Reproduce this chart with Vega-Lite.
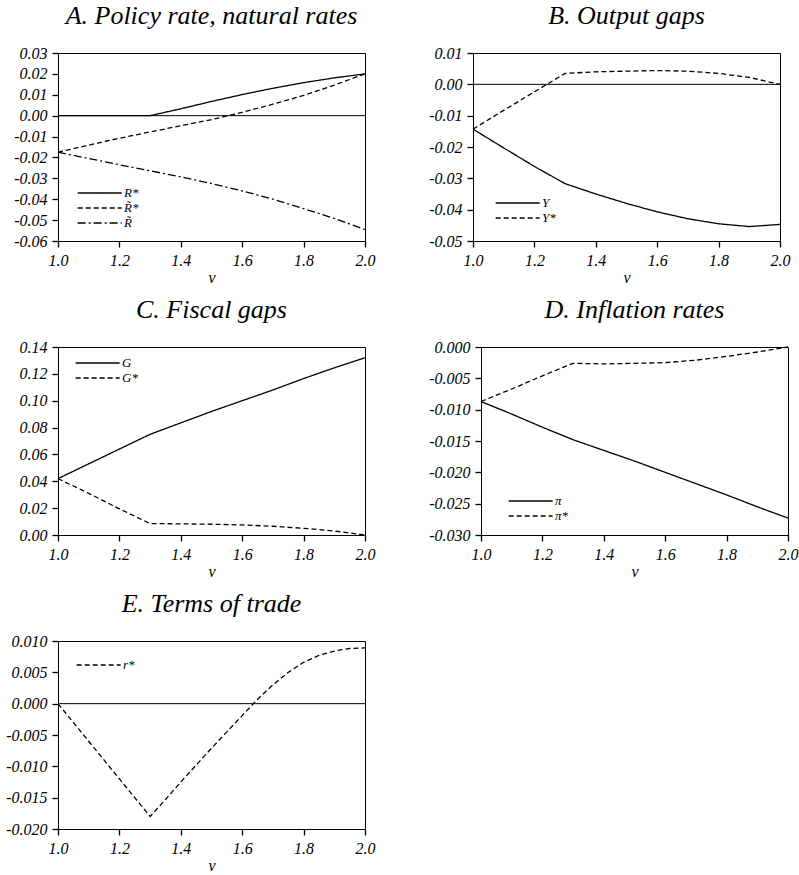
{
  "$schema": "https://vega.github.io/schema/vega-lite/v6.json",
  "padding": {"left": 5, "top": 2, "right": 3, "bottom": 1},
  "background": "white",
  "columns": 2,
  "align": "none",
  "spacing": {"row": 10, "column": 52},
  "datasets": {
    "A": [
      {"x": 1.0, "s": "R*", "y": 0}, {"x": 1.1, "s": "R*", "y": 0}, {"x": 1.2, "s": "R*", "y": 0}, {"x": 1.3, "s": "R*", "y": 0},
      {"x": 1.4, "s": "R*", "y": 0.0033}, {"x": 1.5, "s": "R*", "y": 0.0068}, {"x": 1.6, "s": "R*", "y": 0.0101}, {"x": 1.7, "s": "R*", "y": 0.0131},
      {"x": 1.8, "s": "R*", "y": 0.0158}, {"x": 1.9, "s": "R*", "y": 0.0181}, {"x": 2.0, "s": "R*", "y": 0.0200},
      {"x": 1.0, "s": "R̃*", "y": -0.0175}, {"x": 1.1, "s": "R̃*", "y": -0.0141}, {"x": 1.2, "s": "R̃*", "y": -0.0108}, {"x": 1.3, "s": "R̃*", "y": -0.0078},
      {"x": 1.4, "s": "R̃*", "y": -0.0048}, {"x": 1.5, "s": "R̃*", "y": -0.0019}, {"x": 1.6, "s": "R̃*", "y": 0.0016}, {"x": 1.7, "s": "R̃*", "y": 0.0055},
      {"x": 1.8, "s": "R̃*", "y": 0.0097}, {"x": 1.9, "s": "R̃*", "y": 0.0146}, {"x": 2.0, "s": "R̃*", "y": 0.0200},
      {"x": 1.0, "s": "R̃", "y": -0.0175}, {"x": 1.1, "s": "R̃", "y": -0.0205}, {"x": 1.2, "s": "R̃", "y": -0.0235}, {"x": 1.3, "s": "R̃", "y": -0.0264},
      {"x": 1.4, "s": "R̃", "y": -0.0293}, {"x": 1.5, "s": "R̃", "y": -0.0325}, {"x": 1.6, "s": "R̃", "y": -0.0360}, {"x": 1.7, "s": "R̃", "y": -0.0400},
      {"x": 1.8, "s": "R̃", "y": -0.0445}, {"x": 1.9, "s": "R̃", "y": -0.0492}, {"x": 2.0, "s": "R̃", "y": -0.0545}
    ],
    "B": [
      {"x": 1.0, "s": "Y", "y": -0.0143}, {"x": 1.1, "s": "Y", "y": -0.0203}, {"x": 1.2, "s": "Y", "y": -0.0262}, {"x": 1.3, "s": "Y", "y": -0.0317},
      {"x": 1.4, "s": "Y", "y": -0.0350}, {"x": 1.5, "s": "Y", "y": -0.0380}, {"x": 1.6, "s": "Y", "y": -0.0407}, {"x": 1.7, "s": "Y", "y": -0.0429},
      {"x": 1.8, "s": "Y", "y": -0.0445}, {"x": 1.9, "s": "Y", "y": -0.0454}, {"x": 2.0, "s": "Y", "y": -0.0447},
      {"x": 1.0, "s": "Y*", "y": -0.0143}, {"x": 1.1, "s": "Y*", "y": -0.0083}, {"x": 1.2, "s": "Y*", "y": -0.0024}, {"x": 1.3, "s": "Y*", "y": 0.0035},
      {"x": 1.4, "s": "Y*", "y": 0.0040}, {"x": 1.5, "s": "Y*", "y": 0.0042}, {"x": 1.6, "s": "Y*", "y": 0.0044}, {"x": 1.7, "s": "Y*", "y": 0.0042},
      {"x": 1.8, "s": "Y*", "y": 0.0035}, {"x": 1.9, "s": "Y*", "y": 0.0022}, {"x": 2.0, "s": "Y*", "y": 0.0}
    ],
    "C": [
      {"x": 1.0, "s": "G", "y": 0.042}, {"x": 1.1, "s": "G", "y": 0.053}, {"x": 1.2, "s": "G", "y": 0.064}, {"x": 1.3, "s": "G", "y": 0.075},
      {"x": 1.4, "s": "G", "y": 0.0835}, {"x": 1.5, "s": "G", "y": 0.092}, {"x": 1.6, "s": "G", "y": 0.100}, {"x": 1.7, "s": "G", "y": 0.108},
      {"x": 1.8, "s": "G", "y": 0.1165}, {"x": 1.9, "s": "G", "y": 0.1245}, {"x": 2.0, "s": "G", "y": 0.132},
      {"x": 1.0, "s": "G*", "y": 0.042}, {"x": 1.1, "s": "G*", "y": 0.031}, {"x": 1.2, "s": "G*", "y": 0.0195}, {"x": 1.3, "s": "G*", "y": 0.0085},
      {"x": 1.4, "s": "G*", "y": 0.0083}, {"x": 1.5, "s": "G*", "y": 0.0080}, {"x": 1.6, "s": "G*", "y": 0.0075}, {"x": 1.7, "s": "G*", "y": 0.0065},
      {"x": 1.8, "s": "G*", "y": 0.0050}, {"x": 1.9, "s": "G*", "y": 0.0030}, {"x": 2.0, "s": "G*", "y": 0.0}
    ],
    "D": [
      {"x": 1.0, "s": "π", "y": -0.0087}, {"x": 1.1, "s": "π", "y": -0.0107}, {"x": 1.2, "s": "π", "y": -0.0128}, {"x": 1.3, "s": "π", "y": -0.0148},
      {"x": 1.4, "s": "π", "y": -0.0165}, {"x": 1.5, "s": "π", "y": -0.0182}, {"x": 1.6, "s": "π", "y": -0.0200}, {"x": 1.7, "s": "π", "y": -0.0218},
      {"x": 1.8, "s": "π", "y": -0.0236}, {"x": 1.9, "s": "π", "y": -0.0255}, {"x": 2.0, "s": "π", "y": -0.0273},
      {"x": 1.0, "s": "π*", "y": -0.0087}, {"x": 1.1, "s": "π*", "y": -0.0067}, {"x": 1.2, "s": "π*", "y": -0.0046}, {"x": 1.3, "s": "π*", "y": -0.0026},
      {"x": 1.4, "s": "π*", "y": -0.0027}, {"x": 1.5, "s": "π*", "y": -0.0026}, {"x": 1.6, "s": "π*", "y": -0.0025}, {"x": 1.7, "s": "π*", "y": -0.0021},
      {"x": 1.8, "s": "π*", "y": -0.0015}, {"x": 1.9, "s": "π*", "y": -0.0008}, {"x": 2.0, "s": "π*", "y": 0.0}
    ],
    "E": [
      {"x": 1.0, "s": "r*", "y": 0.0}, {"x": 1.1, "s": "r*", "y": -0.0060}, {"x": 1.2, "s": "r*", "y": -0.0120}, {"x": 1.3, "s": "r*", "y": -0.0180},
      {"x": 1.35, "s": "r*", "y": -0.0153}, {"x": 1.4, "s": "r*", "y": -0.0125}, {"x": 1.45, "s": "r*", "y": -0.0098}, {"x": 1.5, "s": "r*", "y": -0.0071},
      {"x": 1.55, "s": "r*", "y": -0.0045}, {"x": 1.6, "s": "r*", "y": -0.0019}, {"x": 1.65, "s": "r*", "y": 0.0007}, {"x": 1.7, "s": "r*", "y": 0.0030},
      {"x": 1.75, "s": "r*", "y": 0.0050}, {"x": 1.8, "s": "r*", "y": 0.0066}, {"x": 1.85, "s": "r*", "y": 0.0077}, {"x": 1.9, "s": "r*", "y": 0.0084},
      {"x": 1.95, "s": "r*", "y": 0.0088}, {"x": 2.0, "s": "r*", "y": 0.0089}
    ],
    "zero": [{"z": 0}]
  },
  "concat": [
    {
      "title": "A. Policy rate, natural rates",
      "width": 307, "height": 188,
      "layer": [
        {
          "data": {"name": "A"},
          "mark": {"type": "line", "color": "black", "strokeWidth": 1.3},
          "encoding": {
            "x": {"field": "x", "type": "quantitative", "scale": {"domain": [1, 2], "nice": false}, "axis": {"values": [1, 1.2, 1.4, 1.6, 1.8, 2], "format": ".1f", "title": "v"}},
            "y": {"field": "y", "type": "quantitative", "scale": {"domain": [-0.06, 0.03], "nice": false}, "axis": {"values": [-0.06, -0.05, -0.04, -0.03, -0.02, -0.01, 0, 0.01, 0.02, 0.03], "format": ".2f", "title": null}},
            "strokeDash": {"field": "s", "type": "nominal", "scale": {"domain": ["R*", "R̃*", "R̃"], "range": [[1, 0], [5, 3], [8, 3, 2, 3]]}, "legend": {"legendX": 19, "legendY": 132}}
          }
        },
        {"data": {"name": "zero"}, "mark": {"type": "rule", "color": "black", "strokeWidth": 1}, "encoding": {"y": {"field": "z", "type": "quantitative", "axis": {"values": [-0.06, -0.05, -0.04, -0.03, -0.02, -0.01, 0, 0.01, 0.02, 0.03], "format": ".2f", "title": null}}}}
      ]
    },
    {
      "title": "B. Output gaps",
      "width": 307, "height": 188,
      "layer": [
        {
          "data": {"name": "B"},
          "mark": {"type": "line", "color": "black", "strokeWidth": 1.3},
          "encoding": {
            "x": {"field": "x", "type": "quantitative", "scale": {"domain": [1, 2], "nice": false}, "axis": {"values": [1, 1.2, 1.4, 1.6, 1.8, 2], "format": ".1f", "title": "v"}},
            "y": {"field": "y", "type": "quantitative", "scale": {"domain": [-0.05, 0.01], "nice": false}, "axis": {"values": [-0.05, -0.04, -0.03, -0.02, -0.01, 0, 0.01], "format": ".2f", "title": null}},
            "strokeDash": {"field": "s", "type": "nominal", "scale": {"domain": ["Y", "Y*"], "range": [[1, 0], [5, 3]]}, "legend": {"legendX": 22, "legendY": 142}}
          }
        },
        {"data": {"name": "zero"}, "mark": {"type": "rule", "color": "black", "strokeWidth": 1}, "encoding": {"y": {"field": "z", "type": "quantitative", "axis": {"values": [-0.05, -0.04, -0.03, -0.02, -0.01, 0, 0.01], "format": ".2f", "title": null}}}}
      ]
    },
    {
      "title": "C. Fiscal gaps",
      "width": 307, "height": 188,
      "layer": [
        {
          "data": {"name": "C"},
          "mark": {"type": "line", "color": "black", "strokeWidth": 1.3},
          "encoding": {
            "x": {"field": "x", "type": "quantitative", "scale": {"domain": [1, 2], "nice": false}, "axis": {"values": [1, 1.2, 1.4, 1.6, 1.8, 2], "format": ".1f", "title": "v"}},
            "y": {"field": "y", "type": "quantitative", "scale": {"domain": [0, 0.14], "nice": false}, "axis": {"values": [0, 0.02, 0.04, 0.06, 0.08, 0.1, 0.12, 0.14], "format": ".2f", "title": null}},
            "strokeDash": {"field": "s", "type": "nominal", "scale": {"domain": ["G", "G*"], "range": [[1, 0], [5, 3]]}, "legend": {"legendX": 17, "legendY": 8}}
          }
        }
      ]
    },
    {
      "title": "D. Inflation rates",
      "width": 307, "height": 188,
      "layer": [
        {
          "data": {"name": "D"},
          "mark": {"type": "line", "color": "black", "strokeWidth": 1.3},
          "encoding": {
            "x": {"field": "x", "type": "quantitative", "scale": {"domain": [1, 2], "nice": false}, "axis": {"values": [1, 1.2, 1.4, 1.6, 1.8, 2], "format": ".1f", "title": "v"}},
            "y": {"field": "y", "type": "quantitative", "scale": {"domain": [-0.03, 0], "nice": false}, "axis": {"values": [-0.03, -0.025, -0.02, -0.015, -0.01, -0.005, 0], "format": ".3f", "title": null}},
            "strokeDash": {"field": "s", "type": "nominal", "scale": {"domain": ["π", "π*"], "range": [[1, 0], [5, 3]]}, "legend": {"legendX": 27, "legendY": 146}}
          }
        }
      ]
    },
    {
      "title": "E. Terms of trade",
      "width": 307, "height": 188,
      "layer": [
        {
          "data": {"name": "E"},
          "mark": {"type": "line", "color": "black", "strokeWidth": 1.3},
          "encoding": {
            "x": {"field": "x", "type": "quantitative", "scale": {"domain": [1, 2], "nice": false}, "axis": {"values": [1, 1.2, 1.4, 1.6, 1.8, 2], "format": ".1f", "title": "v"}},
            "y": {"field": "y", "type": "quantitative", "scale": {"domain": [-0.02, 0.01], "nice": false}, "axis": {"values": [-0.02, -0.015, -0.01, -0.005, 0, 0.005, 0.01], "format": ".3f", "title": null}},
            "strokeDash": {"field": "s", "type": "nominal", "scale": {"domain": ["r*"], "range": [[5, 3]]}, "legend": {"legendX": 18, "legendY": 16}}
          }
        },
        {"data": {"name": "zero"}, "mark": {"type": "rule", "color": "black", "strokeWidth": 1}, "encoding": {"y": {"field": "z", "type": "quantitative", "axis": {"values": [-0.02, -0.015, -0.01, -0.005, 0, 0.005, 0.01], "format": ".3f", "title": null}}}}
      ]
    }
  ],
  "resolve": {"scale": {"strokeDash": "independent"}, "legend": {"strokeDash": "independent"}},
  "config": {
    "locale": {"number": {"decimal": ".", "thousands": ",", "grouping": [3], "currency": ["$", ""], "minus": "-"}},
    "view": {"stroke": "black", "strokeWidth": 1},
    "title": {"font": "Liberation Serif", "fontStyle": "italic", "fontWeight": "normal", "fontSize": 26, "color": "black", "offset": 16, "anchor": "middle"},
    "axis": {
      "grid": false, "ticks": true, "labelOverlap": false, "labelFlush": false, "labelBound": false,
      "domainColor": "black", "domainWidth": 1,
      "tickColor": "black", "tickSize": 6, "tickWidth": 1.3, "tickOpacity": 1,
      "labelFont": "Liberation Serif", "labelFontStyle": "italic", "labelFontSize": 16, "labelColor": "black", "labelPadding": 5,
      "titleFont": "Liberation Serif", "titleFontStyle": "italic", "titleFontWeight": "normal", "titleFontSize": 16, "titleColor": "black", "titlePadding": 1
    },
    "legend": {
      "orient": "none", "title": null, "padding": 0,
      "symbolType": "M-1,0H5", "symbolSize": 215, "symbolStrokeWidth": 1.3, "symbolStrokeColor": "black", "symbolFillColor": "transparent",
      "labelFont": "Liberation Serif", "labelFontStyle": "italic", "labelFontSize": 13, "labelColor": "black", "labelOffset": 31,
      "rowPadding": 0
    }
  }
}
